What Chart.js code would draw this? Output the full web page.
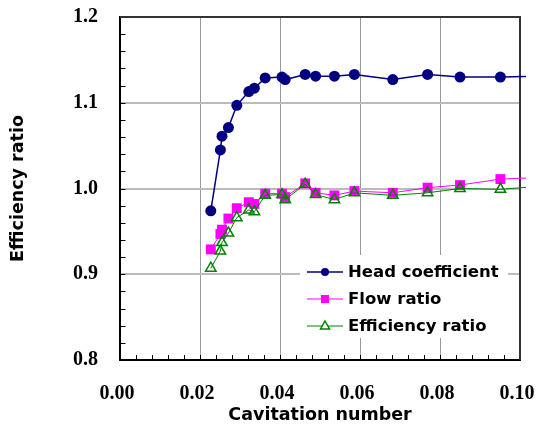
<!DOCTYPE html>
<html><head><meta charset="utf-8">
<script src="https://cdn.jsdelivr.net/npm/chart.js@4.4.1/dist/chart.umd.min.js"></script>
<style>html,body{margin:0;padding:0;background:#fff}</style>
</head><body>
<canvas id="c" width="536" height="426" style="display:block;width:536px;height:426px"></canvas>
<script>
// ---- data ----
const cavitation      = [0.0227,0.0251,0.0255,0.0271,0.0292,0.0322,0.0336,0.0363,0.0405,0.0413,0.0463,0.0489,0.0536,0.0586,0.0682,0.0769,0.0850,0.0951,0.1060];
const headCoefficient = [0.974,1.045,1.061,1.071,1.097,1.113,1.117,1.129,1.130,1.127,1.133,1.131,1.131,1.133,1.127,1.133,1.130,1.130,1.131];
const flowRatio       = [0.929,0.947,0.952,0.965,0.977,0.984,0.982,0.994,0.994,0.990,1.006,0.995,0.992,0.997,0.995,1.001,1.004,1.011,1.013];
const efficiencyRatio = [0.907,0.927,0.937,0.948,0.966,0.975,0.973,0.992,0.993,0.987,1.005,0.993,0.987,0.995,0.992,0.995,1.000,0.999,1.003];
const seriesNames     = ['Head coefficient','Flow ratio','Efficiency ratio'];
const xTickValues     = [0,0.02,0.04,0.06,0.08,0.10];
const yTickValues     = [0.8,0.9,1.0,1.1,1.2];
const xMinorStep = 0.004, yMinorStep = 0.02;

const pts = arr => cavitation.map((x,i)=>({x:x,y:arr[i]}));
const tickFont  = {family:"'Liberation Serif', 'Times New Roman', serif", weight:'bold', size:20};
const titleFont = {family:"'DejaVu Sans', sans-serif", weight:'bold', size:17.5};
const clipBox = {left:5, top:5, right:6, bottom:5};

const frameAndTicks = {
  id:'frameAndTicks',
  beforeDatasetsDraw(chart){
    const ctx=chart.ctx, a=chart.chartArea, xs=chart.scales.x, ys=chart.scales.y;
    ctx.save();
    ctx.strokeStyle='#000'; ctx.lineWidth=1; ctx.beginPath();
    for(let i=0;i<=Math.round(0.1/xMinorStep);i++){
      const px=Math.round(xs.getPixelForValue(i*xMinorStep))+0.5;
      ctx.moveTo(px,a.bottom); ctx.lineTo(px,a.bottom-5);
    }
    for(let i=0;i<=Math.round(0.4/yMinorStep);i++){
      const py=Math.round(ys.getPixelForValue(0.8+i*yMinorStep))+0.5;
      ctx.moveTo(a.left,py); ctx.lineTo(a.left+5.5,py);
    }
    ctx.stroke();
    ctx.strokeStyle='#333'; ctx.lineWidth=2; ctx.beginPath();
    ctx.moveTo(a.left,a.top); ctx.lineTo(a.right,a.top); ctx.lineTo(a.right,a.bottom);
    ctx.stroke();
    ctx.restore();
  }
};

const legendBox = {
  id:'legendBox',
  afterDatasetsDraw(chart){
    const ctx=chart.ctx, a=chart.chartArea;
    const bx=a.left+180, by=a.top+238, bw=208, bh=83;
    ctx.save();
    ctx.fillStyle='#fff'; ctx.fillRect(bx,by,bw,bh);
    const rows=[by+17, by+44, by+71];
    chart.data.datasets.forEach((ds,i)=>{
      const y=rows[i], x0=bx+7, x1=bx+43, mx=(x0+x1)/2;
      ctx.strokeStyle=ds.borderColor; ctx.lineWidth=ds.borderWidth;
      ctx.beginPath(); ctx.moveTo(x0,y); ctx.lineTo(x1,y); ctx.stroke();
      ctx.beginPath();
      if(ds.pointStyle==='circle'){ ctx.fillStyle=ds.borderColor; ctx.arc(mx,y,4,0,Math.PI*2); ctx.fill(); }
      else if(ds.pointStyle==='rect'){ ctx.fillStyle=ds.borderColor; ctx.fillRect(mx-4,y-4,8,8); }
      else { ctx.lineWidth=1.5; ctx.moveTo(mx,y-5); ctx.lineTo(mx+4.5,y+3); ctx.lineTo(mx-4.5,y+3); ctx.closePath(); ctx.fillStyle='#fff'; ctx.fill(); ctx.stroke(); }
      ctx.fillStyle='#000'; ctx.font="bold 16.5px 'DejaVu Sans', sans-serif";
      ctx.textBaseline='middle'; ctx.textAlign='left';
      ctx.fillText(ds.label, bx+48, y+1);
    });
    ctx.restore();
  }
};

new Chart(document.getElementById('c'),{
  type:'scatter',
  data:{datasets:[
    {label:seriesNames[0], data:pts(headCoefficient), showLine:true, order:3, clip:clipBox,
     borderColor:'#000080', backgroundColor:'#000080', borderWidth:1.5,
     pointStyle:'circle', pointRadius:5.5, pointBorderWidth:0, pointBackgroundColor:'#000080'},
    {label:seriesNames[1], data:pts(flowRatio), showLine:true, order:2, clip:clipBox,
     borderColor:'#ff00ff', backgroundColor:'#ff00ff', borderWidth:1,
     pointStyle:'rect', pointRadius:7, pointBorderWidth:0, pointBackgroundColor:'#ff00ff'},
    {label:seriesNames[2], data:pts(efficiencyRatio), showLine:true, order:1, clip:clipBox,
     borderColor:'#008000', backgroundColor:'rgba(0,0,0,0)', borderWidth:1,
     pointStyle:'triangle', pointRadius:6, pointBorderWidth:1.5, pointBackgroundColor:'rgba(0,0,0,0)', pointBorderColor:'#008000'}
  ]},
  options:{
    responsive:false, animation:false, devicePixelRatio:1,
    layout:{padding:{left:0,top:17,right:16,bottom:0}},
    plugins:{legend:{display:false}, tooltip:{enabled:false}},
    scales:{
      x:{type:'linear', min:0, max:0.1,
         afterBuildTicks:s=>{s.ticks=xTickValues.map(v=>({value:v}));},
         afterFit:s=>{s.height=66; s.paddingLeft=0; s.paddingRight=0;},
         ticks:{font:tickFont, color:'#000', padding:22, labelOffset:-3, autoSkip:false, maxRotation:0,
                callback:v=>Number(v).toFixed(2)},
         grid:{drawTicks:false, lineWidth:1,
               color:c=>(c.index===0||c.index===xTickValues.length-1)?'rgba(0,0,0,0)':'#999'},
         border:{color:'#000', width:2},
         title:{display:true, text:'Cavitation number', font:titleFont, color:'#000', padding:{top:0,bottom:0}}},
      y:{type:'linear', min:0.8, max:1.2,
         afterBuildTicks:s=>{s.ticks=yTickValues.map(v=>({value:v}));},
         afterFit:s=>{s.width=120; s.paddingTop=0; s.paddingBottom=0;},
         ticks:{font:tickFont, color:'#000', padding:22, callback:v=>Number(v).toFixed(1)},
         grid:{drawTicks:false, lineWidth:2,
               color:c=>(c.index===0||c.index===yTickValues.length-1)?'rgba(0,0,0,0)':'#bbb'},
         border:{color:'#000', width:2},
         title:{display:true, text:'Efficiency ratio', font:titleFont, color:'#000', padding:{top:8,bottom:0}}}
    }
  },
  plugins:[frameAndTicks, legendBox]
});
</script>
</body></html>
